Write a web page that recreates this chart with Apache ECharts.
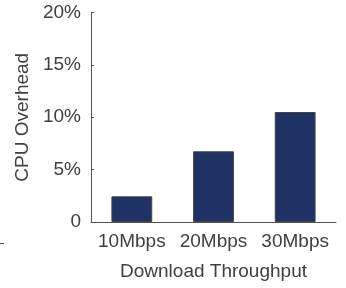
<!DOCTYPE html>
<html><head><meta charset="utf-8">
<script src="https://cdn.jsdelivr.net/npm/echarts@6/dist/echarts.min.js"></script>
<style>html,body{margin:0;padding:0;background:#fff}#c{width:346px;height:288px}</style>
</head><body><div id="c"></div>
<script>
var categories = ['10Mbps', '20Mbps', '30Mbps'];
var cpuOverhead = [2.45, 6.75, 10.5];
var yTicks = [0, 5, 10, 15, 20];

var chart = echarts.init(document.getElementById('c'), null, {renderer: 'canvas'});
var font = 'Liberation Sans, Arial, Helvetica, sans-serif';
chart.setOption({
  animation: false,
  grid: {left: 91, right: 10, top: 12.5, bottom: 66},
  xAxis: {
    type: 'category', data: categories,
    name: 'Download Throughput', nameLocation: 'middle', nameGap: 40,
    nameTextStyle: {color: '#404040', fontSize: 19, fontFamily: font},
    axisLine: {lineStyle: {color: '#555', width: 1}},
    axisTick: {show: false},
    axisLabel: {color: '#404040', fontSize: 19, fontFamily: font, margin: 10, interval: 0, hideOverlap: false}
  },
  yAxis: {
    type: 'value', min: yTicks[0], max: yTicks[yTicks.length - 1], interval: 5,
    name: 'CPU Overhead', nameLocation: 'middle', nameGap: 47,
    nameTextStyle: {color: '#404040', fontSize: 19, fontFamily: font},
    axisLine: {show: true, lineStyle: {color: '#555', width: 1}},
    axisTick: {show: true, inside: true, length: 3, lineStyle: {color: '#555'}},
    splitLine: {show: false},
    axisLabel: {color: '#404040', fontSize: 19, fontFamily: font, margin: 10,
      formatter: function (v) { return v === 0 ? '0' : v + '%'; }}
  },
  series: [{
    type: 'bar', data: cpuOverhead, barWidth: '50%',
    itemStyle: {color: '#1f3264', borderColor: '#444', borderWidth: 1}
  }],
  graphic: [{type: 'rect', left: 0, top: 243, shape: {width: 4, height: 1}, style: {fill: '#555'}}]
});
</script></body></html>
